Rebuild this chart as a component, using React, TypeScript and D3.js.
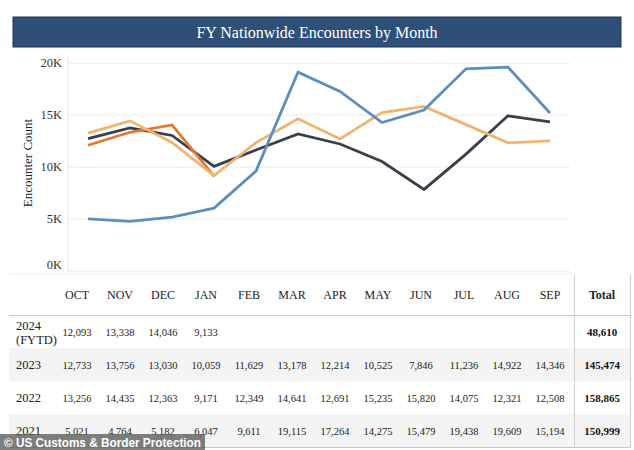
import React from "react";
import * as d3 from "d3";

const months = ["OCT","NOV","DEC","JAN","FEB","MAR","APR","MAY","JUN","JUL","AUG","SEP"];
const years = ["2024", "2023", "2022", "2021"];
const y2024 = [12093, 13338, 14046, 9133];
const y2023 = [12733, 13756, 13030, 10059, 11629, 13178, 12214, 10525, 7846, 11236, 14922, 14346];
const y2022 = [13256, 14435, 12363, 9171, 12349, 14641, 12691, 15235, 15820, 14075, 12321, 12508];
const y2021 = [5021, 4764, 5182, 6047, 9611, 19115, 17264, 14275, 15479, 19438, 19609, 15194];
const totals = [48610, 145474, 158865, 150999];
const yTicks = [0, 5000, 10000, 15000, 20000];

const colors: Record<string, string> = {
  "2024": "#e07a2e",
  "2023": "#3b3f4b",
  "2022": "#f0b46f",
  "2021": "#5a8fbe",
};

const seriesByYear: Record<string, number[]> = { "2024": y2024, "2023": y2023, "2022": y2022, "2021": y2021 };
const drawOrder = ["2023", "2024", "2022", "2021"];

export default function App() {
  const W = 634, H = 450;
  const serif = "'Liberation Serif', 'Times New Roman', serif";
  const xLine = d3.scalePoint<string>().domain(months).range([88, 550]);
  const xTab = d3.scalePoint<string>().domain(months).range([77, 550]);
  const y = d3.scaleLinear().domain([0, 20000]).range([271, 63]);
  const fmt = d3.format(",");
  const line = d3.line<number>().x((_, i) => xLine(months[i])!).y((d) => y(d));

  const rowTop = [315, 348, 381, 414];
  const rowH = 33;

  return (
    <div style={{ position: "absolute", left: 0, top: 0 }}>
      <svg width={W} height={H} style={{ display: "block", background: "#fff" }}>
        {/* Title banner */}
        <rect x={13} y={17} width={608} height={30} fill="#2e4f78" stroke="#1c3352" strokeWidth={1} />
        <text x={317} y={37.5} textAnchor="middle" fill="#fff" fontFamily={serif} fontSize={16}>
          FY Nationwide Encounters by Month
        </text>

        {/* Gridlines */}
        {yTicks.map((t) => (
          <line key={t} x1={68} x2={570} y1={y(t)} y2={y(t)} stroke="#ebebeb" strokeWidth={1} />
        ))}
        <line x1={68} x2={68} y1={56} y2={272} stroke="#ebebeb" strokeWidth={1} />

        {/* Y tick labels */}
        {yTicks.map((t) => (
          <text
            key={t}
            x={62}
            y={(t === 0 ? y(t) - 6 : y(t)) + 4}
            textAnchor="end"
            fontFamily={serif}
            fontSize={12.5}
            fill="#333"
          >
            {t / 1000}K
          </text>
        ))}
        <text
          transform="translate(32,163) rotate(-90)"
          textAnchor="middle"
          fontFamily={serif}
          fontSize={13}
          fill="#222"
        >
          Encounter Count
        </text>

        {/* Lines */}
        {drawOrder.map((yr) => (
          <path
            key={yr}
            d={line(seriesByYear[yr]) || ""}
            fill="none"
            stroke={colors[yr]}
            strokeWidth={2.8}
            strokeLinejoin="miter"
          />
        ))}

        {/* Table */}
        <line x1={9} x2={574} y1={274} y2={274} stroke="#f2f2f2" strokeWidth={1} />
        {rowTop.map((top, i) =>
          i % 2 === 1 ? <rect key={"bg" + i} x={9} y={top} width={622} height={rowH} fill="#f4f4f4" /> : null
        )}
        {months.map((m) => (
          <text key={m} x={xTab(m)} y={299} textAnchor="middle" fontFamily={serif} fontSize={12} fill="#222">
            {m}
          </text>
        ))}
        <text x={602} y={299} textAnchor="middle" fontFamily={serif} fontSize={12} fontWeight="bold" fill="#222">
          Total
        </text>
        <line x1={9} x2={631} y1={315.5} y2={315.5} stroke="#c8c8c8" strokeWidth={1} />
        <line x1={9} x2={631} y1={447.5} y2={447.5} stroke="#c8c8c8" strokeWidth={1} />
        <line x1={574.5} x2={574.5} y1={275} y2={448} stroke="#cfcfcf" strokeWidth={1} />
        <line x1={630.5} x2={630.5} y1={275} y2={448} stroke="#cfcfcf" strokeWidth={1} />

        {years.map((yr, i) => {
          const cy = rowTop[i] + rowH / 2 + 4;
          const vals = seriesByYear[yr];
          return (
            <g key={yr}>
              {yr === "2024" ? (
                <text fontFamily={serif} fontSize={12.5} fill="#222">
                  <tspan x={16} y={cy - 6}>2024</tspan>
                  <tspan x={16} y={cy + 8}>(FYTD)</tspan>
                </text>
              ) : (
                <text x={16} y={cy} fontFamily={serif} fontSize={12.5} fill="#222">
                  {yr}
                </text>
              )}
              {vals.map((v, j) => (
                <text
                  key={j}
                  x={xTab(months[j])}
                  y={cy}
                  textAnchor="middle"
                  fontFamily={serif}
                  fontSize={10.5}
                  fill="#222"
                >
                  {fmt(v)}
                </text>
              ))}
              <text x={602} y={cy} textAnchor="middle" fontFamily={serif} fontSize={11} fontWeight="bold" fill="#111">
                {fmt(totals[i])}
              </text>
            </g>
          );
        })}

        {/* Watermark */}
        <rect x={0} y={434} width={205} height={16} fill="rgba(95,95,95,0.8)" />
        <text
          x={4}
          y={447}
          fontFamily="'Liberation Sans', Arial, sans-serif"
          fontWeight="bold"
          fontSize={12.5}
          fill="#fff"
          textLength={197}
          lengthAdjust="spacingAndGlyphs"
        >
          © US Customs &amp; Border Protection
        </text>
      </svg>
    </div>
  );
}
